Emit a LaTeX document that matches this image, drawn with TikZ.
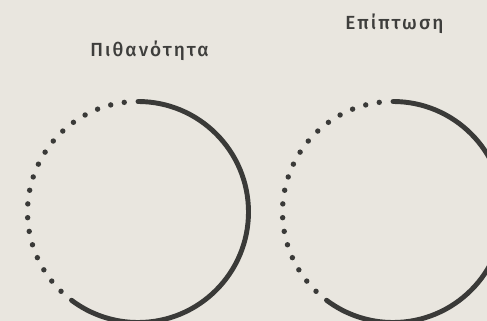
\documentclass[tikz,border=0pt]{standalone}
\usepackage{fontspec}
\setmainfont{Fira Sans}[UprightFont={* Medium}, LetterSpace=11]
\definecolor{bg}{HTML}{E9E6DF}
\definecolor{ink}{HTML}{3A3A38}
\definecolor{txt}{HTML}{3E3E3C}
\tikzset{
  solidarc/.style={draw=ink, line width=4.9pt, line cap=round},
  dotmark/.style={fill=ink},
  label/.style={text=txt, font=\fontsize{19}{22}\selectfont, anchor=base, inner sep=0pt}
}
\begin{document}
\begin{tikzpicture}[x=1pt,y=1pt]
\useasboundingbox (0,0) rectangle (487,321);
\fill[bg] (0,0) rectangle (487,321);
\clip (0,0) rectangle (487,321);
\coordinate (c1) at (138,109);
\coordinate (c2) at (393,109);
\foreach \c in {c1,c2}{
  \draw[solidarc] (\c) ++(90:110.5) arc[start angle=90, end angle=-127, radius=110.5];
  \foreach \k in {1,...,19}{
    \fill[dotmark] (\c) ++({90+7.15*\k}:110.5) circle (2.7);
  }
}
\node[label] (t1) at (149.5,264) {Πιθανότητα};
\node[label] (t2) at (394.5,291) {Επίπτωση};
\end{tikzpicture}
\end{document}
